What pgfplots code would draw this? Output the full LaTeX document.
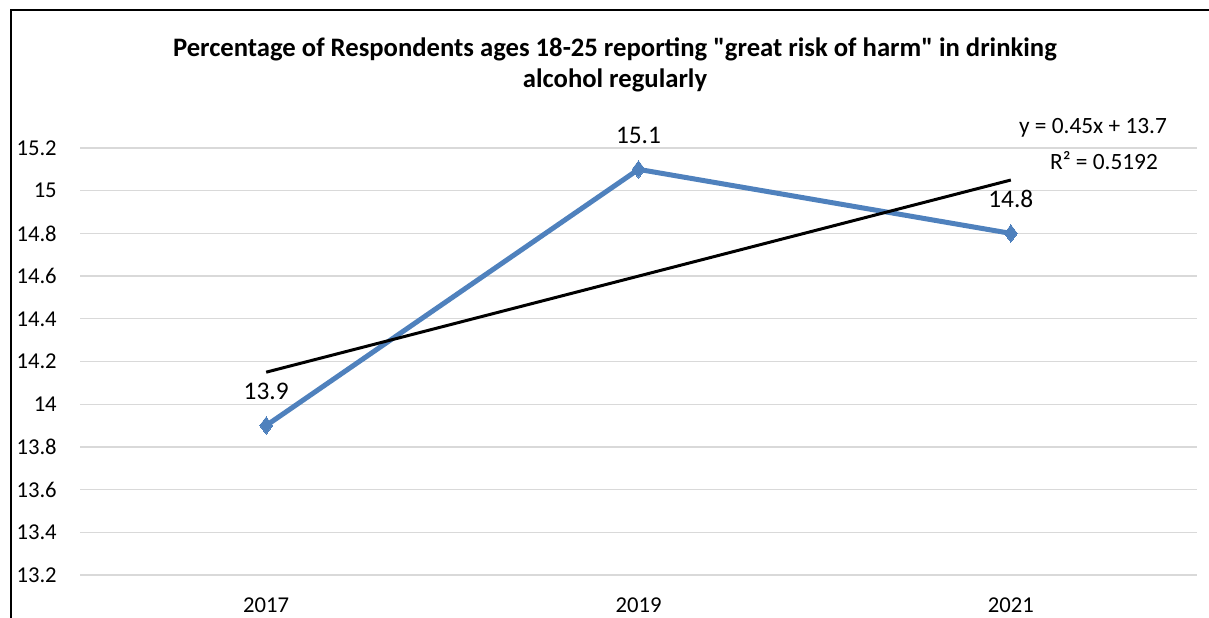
\documentclass[border=0pt]{standalone}
\usepackage{fontspec}
\setmainfont{Carlito}
\newfontfamily\titlefont{Carlito}
\usepackage{pgfplots}
\pgfplotsset{compat=1.18}
\definecolor{serblue}{HTML}{4F81BD}
\definecolor{gridgray}{HTML}{D9D9D9}

\begin{document}
\begin{tikzpicture}[x=0.75pt,y=-0.75pt]
\useasboundingbox (0,0) rectangle (1209,617);
% outer chart frame (cropped at right and bottom)
\draw[line width=1.5pt] (11,640) -- (11,10.5) -- (1240,10.5);
\node[font=\titlefont\bfseries\fontsize{20}{23.25}\selectfont, align=center] at (615,65)
  {Percentage of Respondents ages 18-25 reporting "great risk of harm" in drinking\\alcohol regularly};
\coordinate (ll) at (80,575);
\begin{axis}[
    at={(ll)}, anchor=south west,
    scale only axis,
    width=837.75pt, height=320.25pt,
    xmin=0.5, xmax=3.5,
    ymin=13.2, ymax=15.2,
    clip=false,
    axis line style={draw=none},
    major tick length=0pt,
    xtick={1,2,3},
    xticklabels={2017,2019,2021},
    ytick={13.2,13.4,13.6,13.8,14,14.2,14.4,14.6,14.8,15,15.2},
    ymajorgrids=true,
    grid style={gridgray, line width=1pt},
    /pgf/number format/assume math mode=true,
    yticklabel style={/pgf/number format/fixed, /pgf/number format/precision=1,
        font=\fontsize{17}{20}\selectfont, anchor=east, inner sep=0pt, xshift=-17.25pt},
    xticklabel style={font=\fontsize{17}{20}\selectfont, anchor=north, inner sep=0pt, yshift=-17pt},
]
\addplot[serblue, line width=3.75pt, mark=diamond*, mark size=6.5pt,
    mark options={line width=0pt, fill=serblue},
    nodes near coords,
    nodes near coords style={font=\fontsize{19}{22}\selectfont, black, anchor=center, yshift=25.5pt},
    point meta=explicit symbolic]
  coordinates {(1,13.9)[13.9] (2,15.1)[15.1] (3,14.8)[14.8]};
% linear trendline y = 0.45x + 13.7
\addplot[black, line width=2.25pt] coordinates {(1,14.15) (2,14.6) (3,15.05)};
\end{axis}
\node[font=\fontsize{17.5}{20}\selectfont] at (1093,128) {y = 0.45x + 13.7};
\node[font=\fontsize{17.5}{20}\selectfont] at (1104,161) {R² = 0.5192};
\end{tikzpicture}
\end{document}
